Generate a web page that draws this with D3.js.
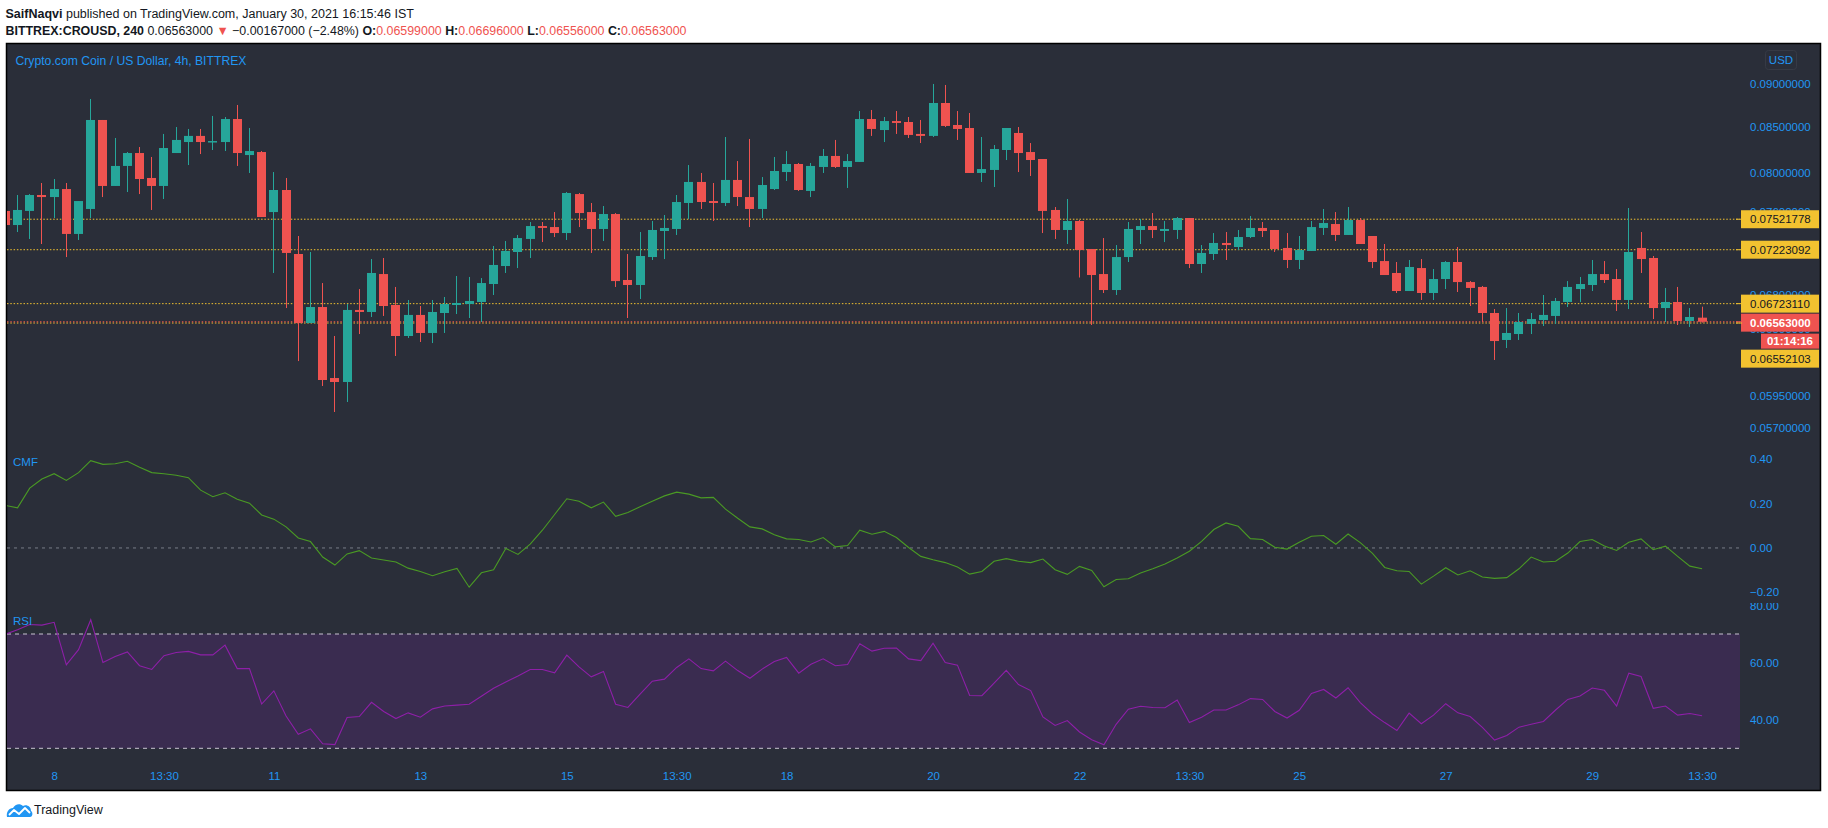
<!DOCTYPE html>
<html><head><meta charset="utf-8">
<script src="https://cdn.jsdelivr.net/npm/d3@7"></script>
<style>
html,body{margin:0;padding:0;background:#fff;}
svg{display:block;}
text{font-family:"Liberation Sans",Arial,sans-serif;}
</style></head><body>
<svg id="c" width="1828" height="828"></svg>
<script>
// ---------------- DATA ----------------
const opens = [0.07605,0.07464,0.07605,0.07768,0.07747,0.07830,0.07376,0.07625,0.08583,0.07862,
0.08074,0.08214,0.07946,0.07862,0.08214,0.08335,0.08403,0.08335,0.08335,0.08594,
0.08192,0.08225,0.07594,0.07820,0.07182,0.06552,0.06693,0.06090,0.06058,0.06667,
0.06649,0.06993,0.06711,0.06440,0.06623,0.06466,0.06640,0.06711,0.06720,0.06738,
0.06901,0.07068,0.07201,0.07327,0.07454,0.07444,0.07385,0.07778,0.07594,0.07425,
0.07574,0.06938,0.06892,0.07153,0.07405,0.07425,0.07686,0.07904,0.07706,0.07686,
0.07925,0.07747,0.07625,0.07830,0.08009,0.08095,0.07810,0.08063,0.08182,0.08063,
0.08117,0.08594,0.08469,0.08571,0.08560,0.08425,0.08403,0.08779,0.08526,0.08492,
0.07999,0.08031,0.08247,0.08436,0.08225,0.08149,0.07615,0.07415,0.07504,0.07230,
0.06993,0.06846,0.07153,0.07415,0.07454,0.07405,0.07415,0.07534,0.07087,0.07182,
0.07288,0.07249,0.07346,0.07435,0.07415,0.07240,0.07125,0.07211,0.07435,0.07474,
0.07366,0.07514,0.07356,0.07115,0.07003,0.06837,0.07049,0.06819,0.06947,0.07106,
0.06919,0.06874,0.06640,0.06406,0.06457,0.06544,0.06578,0.06614,0.06738,0.06855,
0.06892,0.06993,0.06947,0.06756,0.07240,0.07144,0.06684,0.06738,0.06570,0.06599];
const highs = [0.07605,0.07768,0.07778,0.07893,0.07935,0.07893,0.07706,0.08826,0.08583,0.08380,
0.08225,0.08280,0.08171,0.08425,0.08503,0.08481,0.08481,0.08629,0.08617,0.08756,
0.08492,0.08236,0.08009,0.07946,0.07356,0.07201,0.06910,0.06440,0.06720,0.06855,
0.07134,0.07144,0.06874,0.06756,0.06702,0.06756,0.06783,0.06975,0.06966,0.06956,
0.07259,0.07307,0.07366,0.07494,0.07494,0.07594,0.07799,0.07789,0.07686,0.07655,
0.07584,0.07182,0.07395,0.07504,0.07564,0.07768,0.08084,0.07999,0.07893,0.08391,
0.08127,0.08369,0.07956,0.08171,0.08236,0.08106,0.08106,0.08258,0.08358,0.08203,
0.08686,0.08698,0.08617,0.08686,0.08617,0.08583,0.09004,0.08992,0.08686,0.08663,
0.08391,0.08302,0.08492,0.08503,0.08324,0.08149,0.07645,0.07727,0.07514,0.07230,
0.07336,0.07268,0.07494,0.07524,0.07584,0.07504,0.07544,0.07534,0.07268,0.07385,
0.07395,0.07415,0.07554,0.07494,0.07415,0.07385,0.07356,0.07504,0.07625,0.07594,
0.07645,0.07534,0.07356,0.07278,0.07106,0.07125,0.07134,0.07040,0.07115,0.07249,
0.06928,0.06883,0.06675,0.06684,0.06640,0.06640,0.06801,0.06774,0.06928,0.06966,
0.07125,0.07115,0.07040,0.07635,0.07395,0.07163,0.06865,0.06874,0.06684,0.06696];
const lows = [0.07464,0.07395,0.07327,0.07278,0.07534,0.07153,0.07317,0.07534,0.07747,0.07862,
0.07799,0.07778,0.07615,0.07727,0.08214,0.08084,0.08203,0.08247,0.08236,0.08074,
0.07999,0.07544,0.07003,0.06684,0.06229,0.06552,0.06026,0.05821,0.05899,0.06457,
0.06605,0.06614,0.06271,0.06423,0.06389,0.06380,0.06466,0.06631,0.06596,0.06561,
0.06801,0.07003,0.07049,0.07144,0.07297,0.07346,0.07317,0.07444,0.07192,0.07307,
0.06874,0.06596,0.06765,0.07125,0.07134,0.07366,0.07524,0.07625,0.07504,0.07655,
0.07655,0.07444,0.07534,0.07820,0.07914,0.07810,0.07747,0.07999,0.08052,0.07841,
0.08117,0.08403,0.08335,0.08425,0.08380,0.08324,0.08391,0.08503,0.08358,0.07999,
0.07904,0.07851,0.08138,0.08009,0.07967,0.07385,0.07327,0.07278,0.06961,0.06535,
0.06819,0.06801,0.07106,0.07278,0.07336,0.07297,0.07327,0.07049,0.07003,0.07125,
0.07125,0.07220,0.07336,0.07346,0.07201,0.07049,0.07040,0.07211,0.07366,0.07307,
0.07366,0.07278,0.07049,0.06984,0.06819,0.06837,0.06756,0.06756,0.06855,0.06828,
0.06702,0.06561,0.06238,0.06338,0.06406,0.06457,0.06526,0.06544,0.06693,0.06738,
0.06837,0.06910,0.06658,0.06675,0.07003,0.06587,0.06561,0.06535,0.06518,0.06556];
const closes = [0.07464,0.07615,0.07768,0.07747,0.07830,0.07376,0.07706,0.08583,0.07862,0.08074,
0.08214,0.07935,0.07862,0.08269,0.08358,0.08403,0.08335,0.08346,0.08594,0.08214,
0.08236,0.07544,0.07820,0.07192,0.06552,0.06693,0.06074,0.06058,0.06667,0.06649,
0.07003,0.06702,0.06440,0.06623,0.06466,0.06649,0.06720,0.06729,0.06747,0.06910,
0.07078,0.07211,0.07336,0.07454,0.07435,0.07385,0.07789,0.07584,0.07425,0.07574,
0.06928,0.06892,0.07163,0.07415,0.07435,0.07696,0.07904,0.07696,0.07686,0.07925,
0.07747,0.07625,0.07872,0.08020,0.08095,0.07820,0.08074,0.08182,0.08063,0.08127,
0.08594,0.08481,0.08571,0.08549,0.08414,0.08403,0.08779,0.08515,0.08481,0.07999,
0.08041,0.08258,0.08492,0.08214,0.08138,0.07605,0.07415,0.07504,0.07220,0.06984,
0.06846,0.07153,0.07425,0.07454,0.07415,0.07425,0.07534,0.07087,0.07192,0.07288,
0.07268,0.07346,0.07435,0.07405,0.07230,0.07125,0.07220,0.07444,0.07484,0.07366,
0.07514,0.07278,0.07106,0.06984,0.06837,0.07059,0.06819,0.06947,0.07106,0.06919,
0.06865,0.06640,0.06397,0.06466,0.06561,0.06587,0.06623,0.06747,0.06874,0.06901,
0.06993,0.06938,0.06756,0.07201,0.07134,0.06684,0.06738,0.06570,0.06605,0.06563];
const cmf = [0.192,0.181,0.270,0.311,0.335,0.305,0.340,0.394,0.377,0.380,
0.391,0.364,0.340,0.335,0.328,0.317,0.261,0.231,0.249,0.220,
0.202,0.149,0.130,0.095,0.045,0.029,-0.041,-0.077,-0.027,-0.012,
-0.045,-0.054,-0.063,-0.091,-0.106,-0.125,-0.107,-0.092,-0.177,-0.112,
-0.098,-0.002,-0.029,0.017,0.080,0.151,0.222,0.211,0.181,0.207,
0.143,0.160,0.186,0.211,0.235,0.252,0.243,0.226,0.228,0.175,
0.134,0.095,0.086,0.060,0.041,0.038,0.027,0.047,0.005,0.011,
0.080,0.062,0.075,0.047,0.002,-0.038,-0.053,-0.066,-0.086,-0.118,
-0.106,-0.060,-0.048,-0.060,-0.066,-0.050,-0.098,-0.119,-0.083,-0.101,
-0.175,-0.142,-0.139,-0.113,-0.094,-0.072,-0.045,-0.015,0.030,0.083,
0.113,0.098,0.042,0.038,0.003,-0.005,0.026,0.053,0.056,0.017,
0.063,0.024,-0.024,-0.088,-0.103,-0.106,-0.163,-0.127,-0.089,-0.122,
-0.103,-0.131,-0.137,-0.134,-0.094,-0.041,-0.063,-0.060,-0.023,0.029,
0.038,0.009,-0.011,0.026,0.041,-0.008,0.008,-0.038,-0.082,-0.094];
const rsi = [69.9,71.5,73.3,73.1,74.1,59.2,64.5,75.0,60.0,62.1,
63.7,58.9,57.6,62.4,63.5,63.9,62.7,62.7,66.1,57.9,
57.9,45.5,50.1,41.3,34.9,36.8,31.6,31.3,40.8,41.1,
46.1,42.9,40.4,42.4,40.9,43.8,44.8,45.1,45.4,48.2,
51.0,53.2,55.3,57.6,57.6,56.4,62.6,58.5,55.0,56.9,
45.4,44.3,49.0,53.5,54.2,58.3,61.3,57.9,57.1,60.5,
57.2,54.5,57.7,60.4,61.8,56.3,59.4,61.3,58.9,59.3,
66.6,64.0,65.0,65.1,61.3,60.7,66.8,60.0,59.1,48.5,
48.4,52.8,57.3,52.3,50.2,41.0,38.0,39.7,35.7,33.0,
31.2,38.4,43.7,44.7,44.3,44.2,46.9,39.0,40.9,43.4,
43.4,45.2,47.4,47.1,42.9,40.6,43.3,49.2,50.6,47.6,
51.2,46.0,42.0,39.0,36.2,42.3,38.6,41.6,45.6,42.4,
41.1,37.3,32.9,34.5,37.4,38.4,39.4,43.4,47.1,48.3,
51.1,50.3,44.8,56.3,55.1,44.0,44.8,41.6,42.2,41.4];
const priceTicks = [0.09,0.085,0.08,0.076,0.068,0.065,0.0625,0.0595,0.057];
const cmfTicks = [0.4,0.2,0,-0.2];
const rsiTicks = [80,60,40];
const rsiBands = [70,30];
const timeTickIdx = [4,13,22,34,46,55,64,76,88,97,106,118,130,139];
const timeTickLabels = ["8","13:30","11","13","15","13:30","18","20","22","13:30","25","27","29","13:30"];
const levels = [0.07521778,0.07223092,0.06723110,0.06552103];
const lastClose = 0.06563;
const countdown = "01:14:16";

// ---------------- LAYOUT ----------------
const svg = d3.select("#c");
const BG = "#2a2e39", UP = "#26a69a", DN = "#ef5350", BLUE = "#2196f3", YEL = "#f2c230";
const plotL = 7, plotR = 1740;
const pane = {price:[44,445], cmf:[445,603], rsi:[603,763]};

const x = d3.scaleLinear().domain([0, opens.length-1]).range([5.3, 5.3 + 12.207*(opens.length-1)]);
const yP = d3.scaleLog().domain([0.057, 0.09]).range([427.8, 84.3]);
const yC = d3.scaleLinear().domain([-0.2, 0.4]).range([592.3, 459.3]);
const yR = d3.scaleLinear().domain([30, 70]).range([748.3, 634]);

svg.append("rect").attr("x",6.5).attr("y",43.5).attr("width",1814).attr("height",747)
  .attr("fill",BG).attr("stroke","#000").attr("stroke-width",1.5);

const defs = svg.append("defs");
Object.entries(pane).forEach(([k,[a,b]])=>{
  defs.append("clipPath").attr("id","clip-"+k).append("rect")
    .attr("x",plotL).attr("y",a).attr("width",plotR-plotL).attr("height",b-a);
});
defs.append("clipPath").attr("id","clip-rsiax").append("rect")
  .attr("x",1740).attr("y",603).attr("width",80).attr("height",160);

// ---- price pane
const gp = svg.append("g").attr("clip-path","url(#clip-price)");
levels.forEach(v=>{
  gp.append("line").attr("x1",plotL).attr("x2",plotR).attr("y1",yP(v)).attr("y2",yP(v))
    .attr("stroke",YEL).attr("stroke-width",1).attr("stroke-dasharray","1.5,1.8");
});
gp.append("line").attr("x1",plotL).attr("x2",plotR).attr("y1",yP(lastClose)).attr("y2",yP(lastClose))
  .attr("stroke",DN).attr("stroke-width",1).attr("stroke-dasharray","1.5,1.8");

const idx = d3.range(opens.length);
const cg = gp.selectAll("g.c").data(idx).join("g").attr("class","c")
  .attr("fill", i => closes[i] >= opens[i] ? UP : DN);
cg.append("rect")
  .attr("x", i => Math.round(x(i)-4.5)+4).attr("width",1)
  .attr("y", i => yP(highs[i])).attr("height", i => Math.max(1, yP(lows[i]) - yP(highs[i])));
cg.append("rect")
  .attr("x", i => Math.round(x(i)-4.5)).attr("width",9)
  .attr("y", i => Math.min(yP(opens[i]), yP(closes[i])))
  .attr("height", i => Math.max(1.5, Math.abs(yP(opens[i]) - yP(closes[i]))));

// ---- CMF pane
const gc = svg.append("g").attr("clip-path","url(#clip-cmf)");
gc.append("line").attr("x1",plotL).attr("x2",plotR).attr("y1",yC(0)).attr("y2",yC(0))
  .attr("stroke","#787b86").attr("stroke-dasharray","3,4");
gc.append("path").datum(cmf)
  .attr("d", d3.line().x((d,i)=>x(i)).y(d=>yC(d)))
  .attr("fill","none").attr("stroke","#4a9a24").attr("stroke-width",1.1);

// ---- RSI pane
const gr = svg.append("g").attr("clip-path","url(#clip-rsi)");
gr.append("rect").attr("x",plotL).attr("width",plotR-plotL)
  .attr("y",yR(70)).attr("height",yR(30)-yR(70)).attr("fill","#3a2c50");
rsiBands.forEach(v=>{
  gr.append("line").attr("x1",plotL).attr("x2",plotR).attr("y1",yR(v)).attr("y2",yR(v))
    .attr("stroke","#c8c3d2").attr("stroke-dasharray","4,4");
});
gr.append("path").datum(rsi)
  .attr("d", d3.line().x((d,i)=>x(i)).y(d=>yR(d)))
  .attr("fill","none").attr("stroke","#8e1fa8").attr("stroke-width",1.1);

// pane titles
svg.append("text").attr("x",15.5).attr("y",61).attr("dy","0.35em").attr("font-size",12.2)
  .attr("fill",BLUE).text("Crypto.com Coin / US Dollar, 4h, BITTREX");
svg.append("text").attr("x",13).attr("y",462).attr("dy","0.35em").attr("font-size",11.5)
  .attr("fill",BLUE).text("CMF");
svg.append("text").attr("x",13).attr("y",621).attr("dy","0.35em").attr("font-size",11.5)
  .attr("fill",BLUE).text("RSI");

// ---- axes
function styleAxis(g){
  g.select(".domain").remove();
  g.selectAll("line").remove();
  g.selectAll("text").attr("fill",BLUE).attr("font-size",11.5)
    .attr("font-family",'"Liberation Sans",Arial,sans-serif');
}
svg.append("g").attr("transform","translate(1740,0)")
  .call(d3.axisRight(yP).tickValues(priceTicks).tickFormat(d3.format(".8f")).tickSize(0).tickPadding(10))
  .call(styleAxis);
svg.append("g").attr("transform","translate(1740,0)")
  .call(d3.axisRight(yC).tickValues(cmfTicks).tickFormat(d3.format(".2f")).tickSize(0).tickPadding(10))
  .call(styleAxis);
svg.append("g").attr("clip-path","url(#clip-rsiax)").append("g").attr("transform","translate(1740,0)")
  .call(d3.axisRight(yR).tickValues(rsiTicks).tickFormat(d3.format(".2f")).tickSize(0).tickPadding(10))
  .call(styleAxis);
svg.append("g").attr("transform","translate(0,772)")
  .call(d3.axisBottom(x).tickValues(timeTickIdx).tickFormat((d,i)=>timeTickLabels[i]).tickSize(0).tickPadding(0))
  .call(styleAxis);

// USD box
svg.append("rect").attr("x",1765.5).attr("y",50.5).attr("width",31).attr("height",19).attr("rx",3)
  .attr("fill","none").attr("stroke","#363a45");
svg.append("text").attr("x",1781).attr("y",60).attr("dy","0.35em").attr("text-anchor","middle")
  .attr("font-size",11.5).attr("fill",BLUE).text("USD");

// ---- price labels (with collision push)
const labs = levels.map(v=>({v, y:yP(v), kind:"level"}));
labs.push({v:lastClose, y:yP(lastClose), kind:"close"});
labs.sort((a,b)=>a.y-b.y || (a.kind==="close"?-1:1));
let prevBottom = -1e9;
const fmt8 = d3.format(".8f");
labs.forEach(l=>{
  const h = 18;
  const top = Math.max(l.y - h/2, prevBottom + 1);
  const isClose = l.kind==="close";
  svg.append("line").attr("x1",1736).attr("x2",1742).attr("y1",l.y).attr("y2",l.y)
    .attr("stroke", isClose?DN:YEL);
  svg.append("rect").attr("x",1741).attr("y",top).attr("width",78).attr("height",h)
    .attr("fill", isClose?DN:YEL);
  svg.append("text").attr("x",1750).attr("y",top+h/2).attr("dy","0.35em").attr("font-size",11.5)
    .attr("fill", isClose?"#fff":"#131722").attr("font-weight", isClose?"bold":"normal").text(fmt8(l.v));
  prevBottom = top + h;
  if(isClose){
    const t2 = prevBottom + 2;
    svg.append("rect").attr("x",1761).attr("y",t2).attr("width",58).attr("height",15).attr("fill",DN);
    svg.append("text").attr("x",1790).attr("y",t2+7.5).attr("dy","0.35em").attr("text-anchor","middle")
      .attr("font-size",11.5).attr("font-weight","bold").attr("fill","#fff").text(countdown);
    prevBottom = t2 + 15;
  }
});

// ---- header
const TXT = "#131722";
const h1 = svg.append("text").attr("x",5.5).attr("y",17.5).attr("font-size",12.5).attr("fill",TXT);
h1.append("tspan").attr("font-weight","bold").text("SaifNaqvi");
h1.append("tspan").text(" published on TradingView.com, January 30, 2021 16:15:46 IST");
const segs = [
  {t:"BITTREX:CROUSD, 240 ", b:true, c:TXT},
  {t:"0.06563000 ", c:TXT},
  {t:"▼", c:DN},
  {t:" −0.00167000 (−2.48%) ", c:TXT},
  {t:"O:", b:true, c:TXT},
  {t:"0.06599000 ", c:DN},
  {t:"H:", b:true, c:TXT},
  {t:"0.06696000 ", c:DN},
  {t:"L:", b:true, c:TXT},
  {t:"0.06556000 ", c:DN},
  {t:"C:", b:true, c:TXT},
  {t:"0.06563000", c:DN}
];
const h2 = svg.append("text").attr("x",5.5).attr("y",34.5).attr("font-size",12.5)
  .attr("fill",TXT).attr("xml:space","preserve").style("white-space","pre");
segs.forEach(s=>{
  h2.append("tspan").attr("font-weight", s.b?"bold":"normal").attr("fill",s.c).text(s.t);
});
const w2 = h2.node().getComputedTextLength();
if (w2 > 681) h2.attr("textLength",681).attr("lengthAdjust","spacingAndGlyphs");

// ---- logo
const lg = svg.append("g").attr("transform","translate(6,802)");
lg.append("path").attr("d","M1,15 C0,10 3,6 7,6 C9,2 14,1 17,4 C20,2 25,4 25,9 C27,10 27,15 24,15 Z")
  .attr("fill","#2196f3");
lg.append("path").attr("d","M3,13 L8,8 L13,12 L19,6 L24,11").attr("fill","none")
  .attr("stroke","#fff").attr("stroke-width",1.8).attr("stroke-linejoin","round");
svg.append("text").attr("x",34).attr("y",814).attr("font-size",12.5).attr("fill",TXT).text("TradingView");
</script>
</body></html>
